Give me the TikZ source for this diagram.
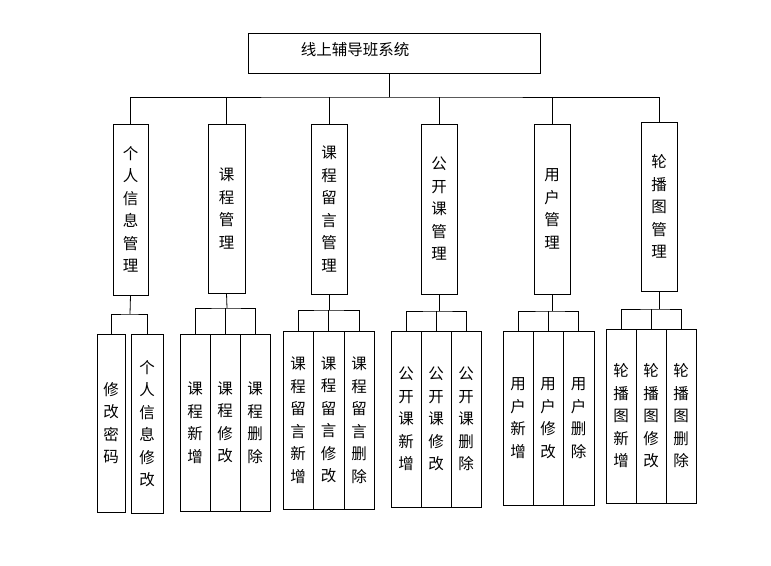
\documentclass[tikz,border=0pt]{standalone}
\usepackage{fontspec}
\newfontfamily\cjk{Noto Sans CJK SC}
\begin{document}
\begin{tikzpicture}[x=1pt,y=-1pt,
  bx/.style={draw,thick,inner sep=0pt,align=center,font=\cjk\fontsize{15.5}{22.5}\selectfont},
  ln/.style={draw,thick}]
\useasboundingbox (0,0) rectangle (771,565);
% root
\node[bx,minimum width=292,minimum height=40] (r) at (394,53) {};
\node[font=\cjk\fontsize{15.5}{20}\selectfont] (rt) at (355,50) {线上辅导班系统};
\coordinate (rb) at (389,97);
\draw[ln] (r.south -| rb) -- (rb);
% level 2
\node[bx,minimum width=35,minimum height=171] (a) at (130.5,209.5) {个\\人\\信\\息\\管\\理};
\node[bx,minimum width=37,minimum height=169] (b) at (226.5,208.5) {课\\程\\管\\理};
\node[bx,minimum width=36,minimum height=170] (c) at (329,209) {课\\程\\留\\言\\管\\理};
\node[bx,minimum width=36,minimum height=170] (d) at (439,209) {公\\开\\课\\管\\理};
\node[bx,minimum width=36,minimum height=170] (e) at (552,209) {用\\户\\管\\理};
\node[bx,minimum width=36,minimum height=169] (f) at (659,206.5) {轮\\播\\图\\管\\理};
\draw[ln] (a.north) |- (rb) -| (f.north);
\foreach \n in {b,c,d,e} \draw[ln] (\n.north) -- (\n.north |- rb);
% level 3
\newcommand\leaf[6]{\node[bx,minimum width=#3,minimum height=#4] (#1) at (#2,#5) {#6};}
\leaf{a1}{111}{28}{178}{423}{修\\改\\密\\码}
\leaf{a2}{147}{32}{179}{423.5}{个\\人\\信\\息\\修\\改}
\leaf{b1}{195}{30}{177}{422.5}{课\\程\\新\\增}
\leaf{b2}{225}{30}{177}{422.5}{课\\程\\修\\改}
\leaf{b3}{255}{30}{177}{422.5}{课\\程\\删\\除}
\leaf{c1}{298}{30}{178}{420}{课\\程\\留\\言\\新\\增}
\leaf{c2}{328.5}{31}{178}{420}{课\\程\\留\\言\\修\\改}
\leaf{c3}{359}{30}{178}{420}{课\\程\\留\\言\\删\\除}
\leaf{d1}{406}{30}{176}{419}{公\\开\\课\\新\\增}
\leaf{d2}{436}{30}{176}{419}{公\\开\\课\\修\\改}
\leaf{d3}{466}{30}{176}{419}{公\\开\\课\\删\\除}
\leaf{e1}{518}{30}{174}{418}{用\\户\\新\\增}
\leaf{e2}{548}{30}{174}{418}{用\\户\\修\\改}
\leaf{e3}{578.5}{31}{174}{418}{用\\户\\删\\除}
\leaf{f1}{621}{30}{174}{416}{轮\\播\\图\\新\\增}
\leaf{f2}{651}{30}{174}{416}{轮\\播\\图\\修\\改}
\leaf{f3}{681}{30}{174}{416}{轮\\播\\图\\删\\除}
% connectors
\coordinate (ja) at (130,314);
\draw[ln] (a.south) -- (ja); \draw[ln] (a1.north) |- (ja) -| (a2.north);
\coordinate (jb) at (227,308);
\draw[ln] (b.south) -- (jb); \draw[ln] (b1.north) |- (jb) -| (b3.north); \draw[ln] (b2.north) -- (b2.north |- jb);
\coordinate (jc) at (329,310);
\draw[ln] (c.south) -- (jc); \draw[ln] (c1.north) |- (jc) -| (c3.north); \draw[ln] (c2.north) -- (c2.north |- jc);
\coordinate (jd) at (439,311);
\draw[ln] (d.south) -- (jd); \draw[ln] (d1.north) |- (jd) -| (d3.north); \draw[ln] (d2.north) -- (d2.north |- jd);
\coordinate (je) at (552,311);
\draw[ln] (e.south) -- (je); \draw[ln] (e1.north) |- (je) -| (e3.north); \draw[ln] (e2.north) -- (e2.north |- je);
\coordinate (jf) at (659,309);
\draw[ln] (f.south) -- (jf); \draw[ln] (f1.north) |- (jf) -| (f3.north); \draw[ln] (f2.north) -- (f2.north |- jf);
\end{tikzpicture}
\end{document}
